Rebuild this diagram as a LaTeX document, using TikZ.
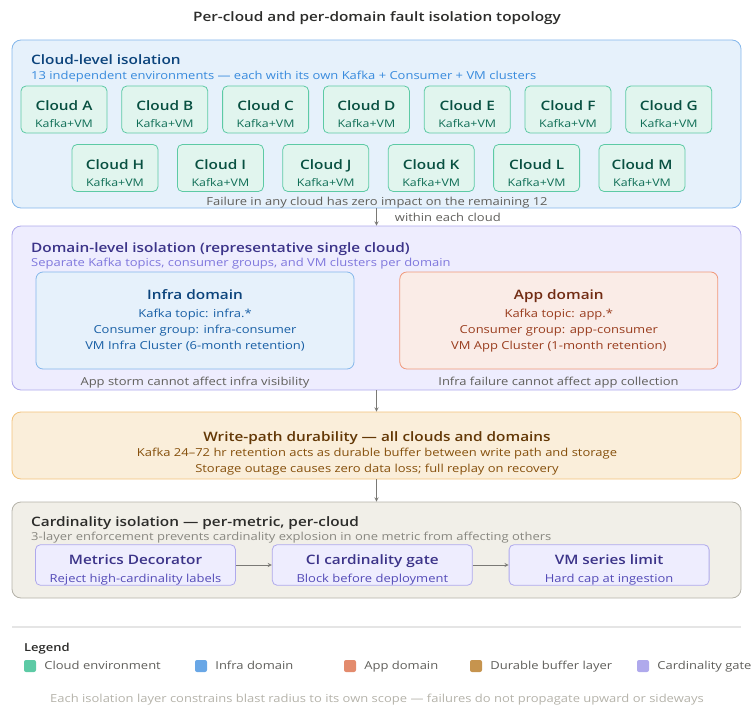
\documentclass[tikz,border=0pt]{standalone}
\usepackage{fontspec}
\IfFontExistsTF{Open Sans SemiBold}
  {\setmainfont{Open Sans}[BoldFont={Open Sans SemiBold}, FakeStretch=1.18]}
  {\IfFontExistsTF{Open Sans Semibold}
    {\setmainfont{Open Sans}[BoldFont={Open Sans Semibold}, FakeStretch=1.18]}
    {\setmainfont{Open Sans}[FakeStretch=1.18]}}
\usepackage{tikz}
\usetikzlibrary{arrows,shapes,positioning}
\usepackage{xcolor}
\definecolor{bluefill}{HTML}{E6F1FB}
\definecolor{blueline}{HTML}{85B7EB}
\definecolor{bluedark}{HTML}{0C447C}
\definecolor{bluemid}{HTML}{185FA5}
\definecolor{bluelight}{HTML}{378ADD}
\definecolor{greenfill}{HTML}{E1F5EE}
\definecolor{greenline}{HTML}{5DCAA5}
\definecolor{greendark}{HTML}{085041}
\definecolor{greenmid}{HTML}{0F6E56}
\definecolor{purplefill}{HTML}{EEEDFE}
\definecolor{purpleline}{HTML}{AFA9EC}
\definecolor{purpledark}{HTML}{3C3489}
\definecolor{purplemid}{HTML}{534AB7}
\definecolor{purplelight}{HTML}{7F77DD}
\definecolor{coralfill}{HTML}{FAECE7}
\definecolor{coralline}{HTML}{F0997B}
\definecolor{coraldark}{HTML}{712B13}
\definecolor{coralmid}{HTML}{993C1D}
\definecolor{amberfill}{HTML}{FAEEDA}
\definecolor{amberline}{HTML}{F2C27A}
\definecolor{amberdark}{HTML}{633806}
\definecolor{ambermid}{HTML}{854F0B}
\definecolor{grayfill}{HTML}{F1EFE8}
\definecolor{grayline}{HTML}{B4B2A9}
\definecolor{graydark}{HTML}{2C2C2A}
\definecolor{graymid}{HTML}{5F5E5A}
\definecolor{graylight}{HTML}{888780}
\definecolor{grayfaint}{HTML}{B4B2A9}
\definecolor{arrowgray}{HTML}{7A7975}
\newcommand{\fnttitle}{\fontsize{13}{16}\selectfont\bfseries}
\newcommand{\fnthead}{\fontsize{13}{16}\selectfont\bfseries}
\newcommand{\fntsub}{\fontsize{11}{16}\selectfont}
\newcommand{\cloudname}[1]{{\fnthead\color{greendark}\rule{0pt}{20pt}#1}}
\newcommand{\gatename}[1]{{\fnthead\color{purpledark}\rule{0pt}{20pt}#1}}
\tikzstyle{arrow} = [line width=0.9pt,->,>=stealth,color=arrowgray]
\tikzstyle{layer} = [rectangle, rounded corners=9pt, line width=0.8pt, minimum width=729pt]
\tikzstyle{heading} = [anchor=base west, inner sep=0pt, font=\fnthead]
\tikzstyle{subhead} = [anchor=base west, inner sep=0pt, font=\fntsub]
\tikzstyle{note} = [anchor=base, inner sep=0pt, font=\fntsub]
\tikzstyle{cloudbox} = [rectangle, rounded corners=5pt, minimum width=86pt, minimum height=47pt, inner sep=0pt, draw=greenline, fill=greenfill, line width=0.8pt, align=center, text=greenmid, font=\fontsize{10.5}{17}\selectfont]
\tikzstyle{domainbox} = [rectangle, rounded corners=7pt, minimum width=318pt, minimum height=97pt, inner sep=0pt, line width=0.8pt, align=center, font=\fntsub]
\tikzstyle{gatebox} = [rectangle, rounded corners=5pt, minimum width=200pt, minimum height=40pt, inner sep=0pt, draw=purpleline, fill=purplefill, line width=0.8pt, align=center, text=purplemid, font=\fontsize{11}{18}\selectfont]
\tikzstyle{legendkey} = [rectangle, rounded corners=2pt, minimum size=12pt, inner sep=0pt]
\tikzstyle{legendtext} = [inner sep=0pt, text height=8.5pt, text depth=2.5pt, font=\fntsub, text=graymid]

\begin{document}
\begin{tikzpicture}[x=1pt,y=-1pt]
\useasboundingbox (0,0) rectangle (754,706);
\node[anchor=base, inner sep=0pt, font=\fnttitle, text=graydark] (title) at (377,22) {Per-cloud and per-domain fault isolation topology};

% Cloud level
\node[layer, draw=blueline, fill=bluefill, minimum height=168pt] (cloudlvl) at (376.5,124) {};
\node[heading, text=bluedark] (cloudhead) at (31,64.5) {Cloud-level isolation};
\node[subhead, text=bluelight] (cloudsub) at (31,80) {13 independent environments — each with its own Kafka + Consumer + VM clusters};
\node[cloudbox] (cloudA) at (64,109.5) {\cloudname{Cloud A}\\Kafka+VM};
\node[cloudbox, right=14pt of cloudA] (cloudB) {\cloudname{Cloud B}\\Kafka+VM};
\node[cloudbox, right=14pt of cloudB] (cloudC) {\cloudname{Cloud C}\\Kafka+VM};
\node[cloudbox, right=14pt of cloudC] (cloudD) {\cloudname{Cloud D}\\Kafka+VM};
\node[cloudbox, right=14pt of cloudD] (cloudE) {\cloudname{Cloud E}\\Kafka+VM};
\node[cloudbox, right=14pt of cloudE] (cloudF) {\cloudname{Cloud F}\\Kafka+VM};
\node[cloudbox, right=14pt of cloudF] (cloudG) {\cloudname{Cloud G}\\Kafka+VM};
\node[cloudbox] (cloudH) at (115,168) {\cloudname{Cloud H}\\Kafka+VM};
\node[cloudbox, right=18.6pt of cloudH] (cloudI) {\cloudname{Cloud I}\\Kafka+VM};
\node[cloudbox, right=18.6pt of cloudI] (cloudJ) {\cloudname{Cloud J}\\Kafka+VM};
\node[cloudbox, right=18.6pt of cloudJ] (cloudK) {\cloudname{Cloud K}\\Kafka+VM};
\node[cloudbox, right=18.6pt of cloudK] (cloudL) {\cloudname{Cloud L}\\Kafka+VM};
\node[cloudbox, right=18.6pt of cloudL] (cloudM) {\cloudname{Cloud M}\\Kafka+VM};
\node[note, text=graymid] (cloudnote) at (377,205) {Failure in any cloud has zero impact on the remaining 12};

% Domain level
\node[layer, draw=purpleline, fill=purplefill, minimum height=164pt] (domainlvl) at (376.5,308) {};
\draw[arrow] (cloudlvl.south) -- node[right=18pt, inner sep=0pt, font=\fntsub, text=graymid] (withincloud) {within each cloud} (domainlvl.north);
\node[heading, text=purpledark] (domainhead) at (31,252) {Domain-level isolation (representative single cloud)};
\node[subhead, text=purplelight] (domainsub) at (31,266.5) {Separate Kafka topics, consumer groups, and VM clusters per domain};
\node[domainbox, draw=blueline, fill=bluefill, text=bluemid] (infra) at (195,320.5) {{\fnthead\color{bluedark}Infra domain}\\[2pt]Kafka topic: infra.*\\Consumer group: infra-consumer\\VM Infra Cluster (6-month retention)};
\node[domainbox, draw=coralline, fill=coralfill, text=coralmid, right=45pt of infra] (app) {{\fnthead\color{coraldark}App domain}\\[2pt]Kafka topic: app.*\\Consumer group: app-consumer\\VM App Cluster (1-month retention)};
\node[note, text=graymid] (infranote) at (195,385) {App storm cannot affect infra visibility};
\node[note, text=graymid] (appnote) at (558.5,385) {Infra failure cannot affect app collection};

% Durable buffer
\node[layer, draw=amberline, fill=amberfill, minimum height=67pt] (durlvl) at (376.5,445.5) {};
\draw[arrow] (domainlvl.south) -- (durlvl.north);
\node[note, font=\fnthead, text=amberdark] (durhead) at (377,441) {Write-path durability — all clouds and domains};
\node[note, text=ambermid] (durline1) at (377,456.5) {Kafka 24–72 hr retention acts as durable buffer between write path and storage};
\node[note, text=ambermid] (durline2) at (377,472.5) {Storage outage causes zero data loss; full replay on recovery};

% Cardinality
\node[layer, draw=grayline, fill=grayfill, minimum height=96pt] (cardlvl) at (376.5,550) {};
\draw[arrow] (durlvl.south) -- (cardlvl.north);
\node[heading, text=graydark] (cardhead) at (31,526) {Cardinality isolation — per-metric, per-cloud};
\node[subhead, text=graylight] (cardsub) at (31,540.5) {3-layer enforcement prevents cardinality explosion in one metric from affecting others};
\node[gatebox] (decorator) at (135.5,565) {\gatename{Metrics Decorator}\\Reject high-cardinality labels};
\node[gatebox, right=36pt of decorator] (cigate) {\gatename{CI cardinality gate}\\Block before deployment};
\node[gatebox, right=36pt of cigate] (vmlimit) {\gatename{VM series limit}\\Hard cap at ingestion};
\draw[arrow] (decorator) -- (cigate);
\draw[arrow] (cigate) -- (vmlimit);

% Legend
\draw[line width=1.2pt, color=black!10] (12,627) -- (741,627);
\node[heading, text=graydark, font=\fontsize{11}{14}\selectfont\bfseries] (legendhead) at (24,651) {Legend};
\node[legendkey, fill=greenline] (keycloud) at (30,666) {};
\node[legendtext, right=8pt of keycloud] (txtcloud) {Cloud environment};
\node[legendkey, fill=bluelight!75] (keyinfra) at (201,666) {};
\node[legendtext, right=8pt of keyinfra] (txtinfra) {Infra domain};
\node[legendkey, fill=coralline!85!coralmid] (keyapp) at (350,666) {};
\node[legendtext, right=8pt of keyapp] (txtapp) {App domain};
\node[legendkey, fill=amberline!60!ambermid] (keydur) at (476,666) {};
\node[legendtext, right=8pt of keydur] (txtdur) {Durable buffer layer};
\node[legendkey, fill=purpleline] (keycard) at (643,666) {};
\node[legendtext, right=8pt of keycard] (txtcard) {Cardinality gate};
\node[note, text=grayfaint] (footnote) at (377,702) {Each isolation layer constrains blast radius to its own scope — failures do not propagate upward or sideways};
\end{tikzpicture}
\end{document}
